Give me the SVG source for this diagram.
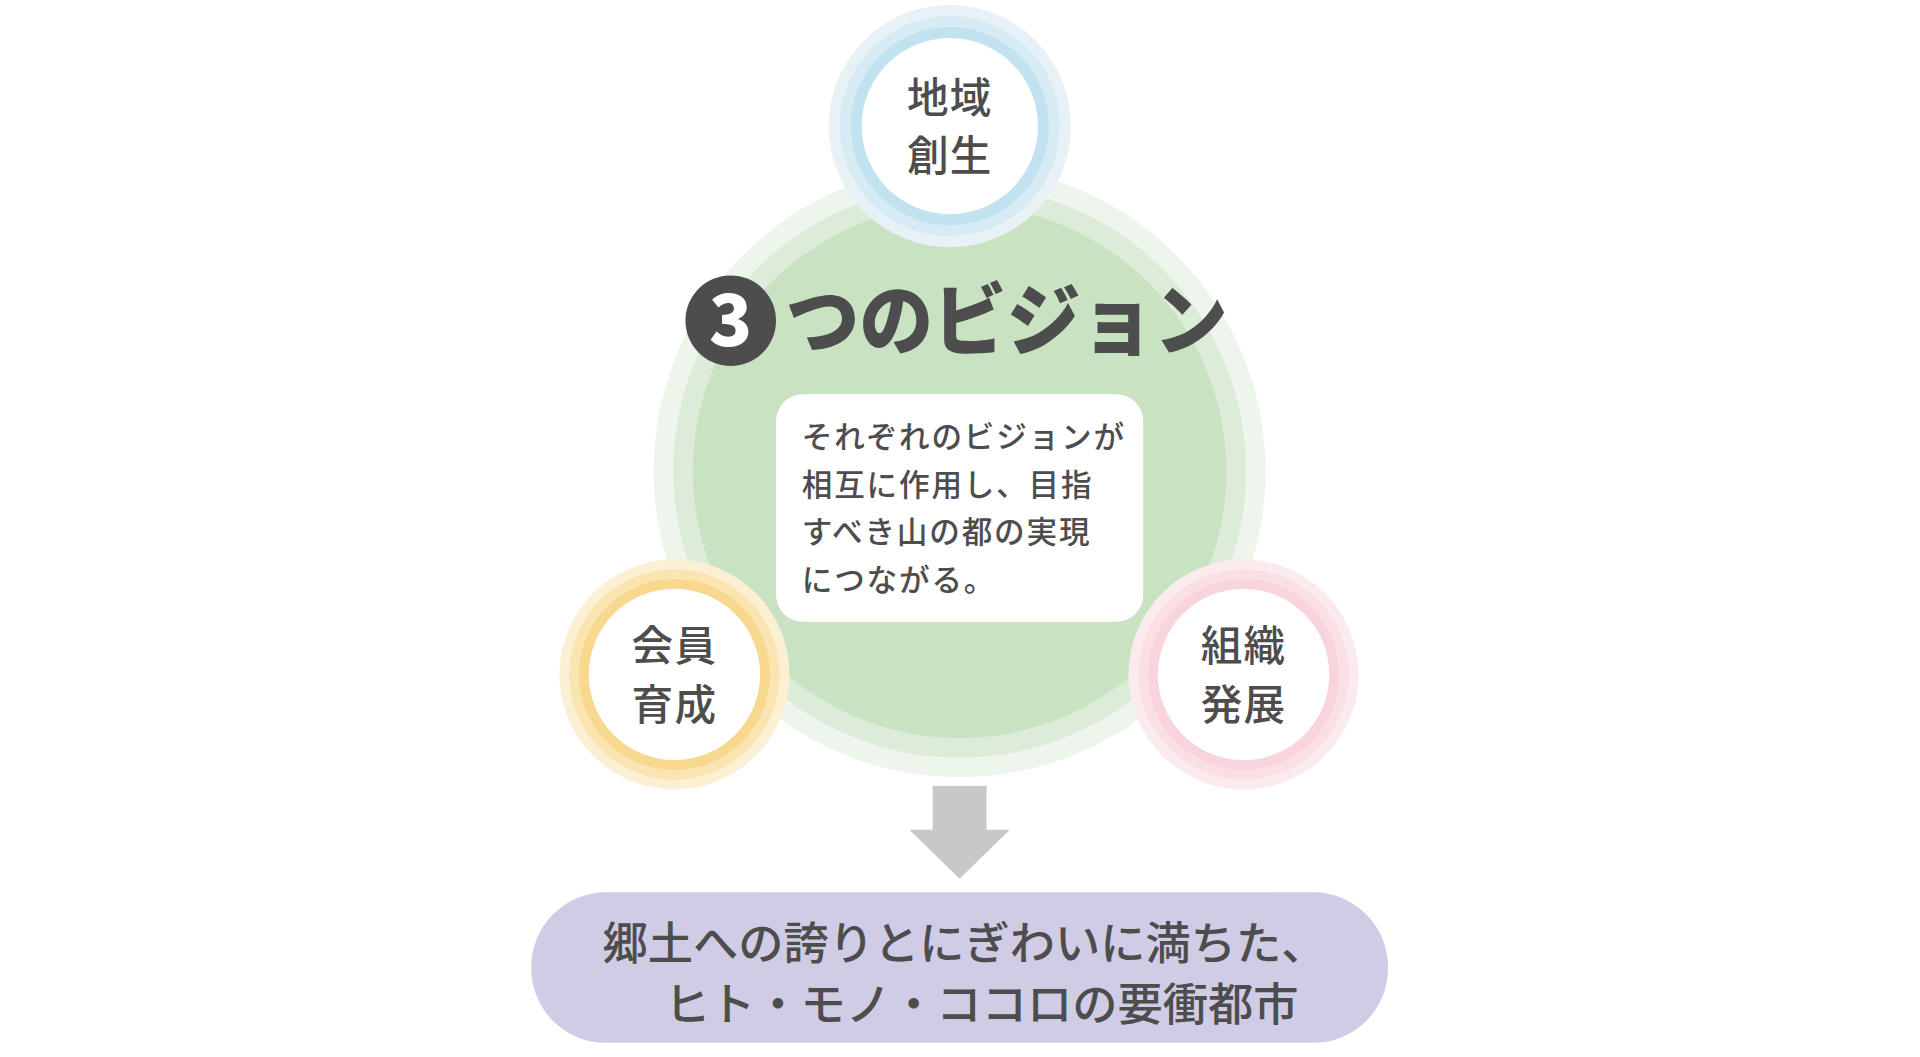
<svg xmlns="http://www.w3.org/2000/svg" width="1920" height="1057" viewBox="0 0 1920 1057">
<style>
text{font-family:"Noto Sans CJK JP","Noto Sans",sans-serif;fill:#4d4d4d;font-weight:500}
.n{font-size:34px;text-anchor:middle;letter-spacing:1px}
.b{font-size:25px;letter-spacing:1.5px}
.p{font-size:37px;text-anchor:middle}
</style>
<rect width="1920" height="1057" fill="#fff"/>
<g transform="scale(1.224)">
<g id="center">
<circle cx="784" cy="385" r="250" fill="#eef5ec"/>
<circle cx="784" cy="385" r="234" fill="#ddecd8"/>
<circle cx="784" cy="385" r="218" fill="#c8e2c2"/>
</g>
<g id="top">
<circle cx="776" cy="103" r="99" fill="#e8f2f6"/>
<circle cx="776" cy="103" r="90" fill="#d6ebf3"/>
<circle cx="776" cy="103" r="81" fill="#c2e2f0"/>
<circle cx="776" cy="103" r="72" fill="#fff"/>
<text class="n" x="776" y="92">地域</text>
<text class="n" x="776" y="140">創生</text>
</g>
<g id="left">
<circle cx="551" cy="551" r="94" fill="#fcf0d4"/>
<circle cx="551" cy="551" r="86" fill="#fae4b0"/>
<circle cx="551" cy="551" r="78" fill="#f8d88e"/>
<circle cx="551" cy="551" r="70" fill="#fff"/>
<text class="n" x="551" y="540">会員</text>
<text class="n" x="551" y="588">育成</text>
</g>
<g id="right">
<circle cx="1016" cy="551" r="94" fill="#fcebee"/>
<circle cx="1016" cy="551" r="86" fill="#fadfe4"/>
<circle cx="1016" cy="551" r="78" fill="#f8d4dc"/>
<circle cx="1016" cy="551" r="70" fill="#fff"/>
<text class="n" x="1016" y="540">組織</text>
<text class="n" x="1016" y="588">発展</text>
</g>
<g id="title">
<circle cx="597" cy="262" r="37" fill="#4d4d4d"/>
<text x="597" y="283" font-size="58" text-anchor="middle" style="fill:#fff;font-weight:900">3</text>
<text x="642" y="285" font-size="64" textLength="361" lengthAdjust="spacingAndGlyphs" style="font-weight:900">つのビジョン</text>
</g>
<g id="desc">
<rect x="634" y="322" width="300" height="186" rx="22" fill="#fff"/>
<text class="b" x="655" y="366">それぞれのビジョンが</text>
<text class="b" x="655" y="405">相互に作用し、目指</text>
<text class="b" x="655" y="444">すべき山の都の実現</text>
<text class="b" x="655" y="483">につながる。</text>
</g>
<g id="connectors">
<rect x="762" y="642" width="44" height="38" fill="#c8c8c8"/>
<polygon points="743,678 825,678 784,718" fill="#c8c8c8"/>
</g>
<g id="goal">
<rect x="434" y="729" width="700" height="123" rx="61" fill="#d0cce6"/>
<text class="p" x="788" y="784">郷土への誇りとにぎわいに満ちた、</text>
<text class="p" x="802" y="834" font-size="36">ヒト・モノ・ココロの要衝都市</text>
</g>
</g>
</svg>
